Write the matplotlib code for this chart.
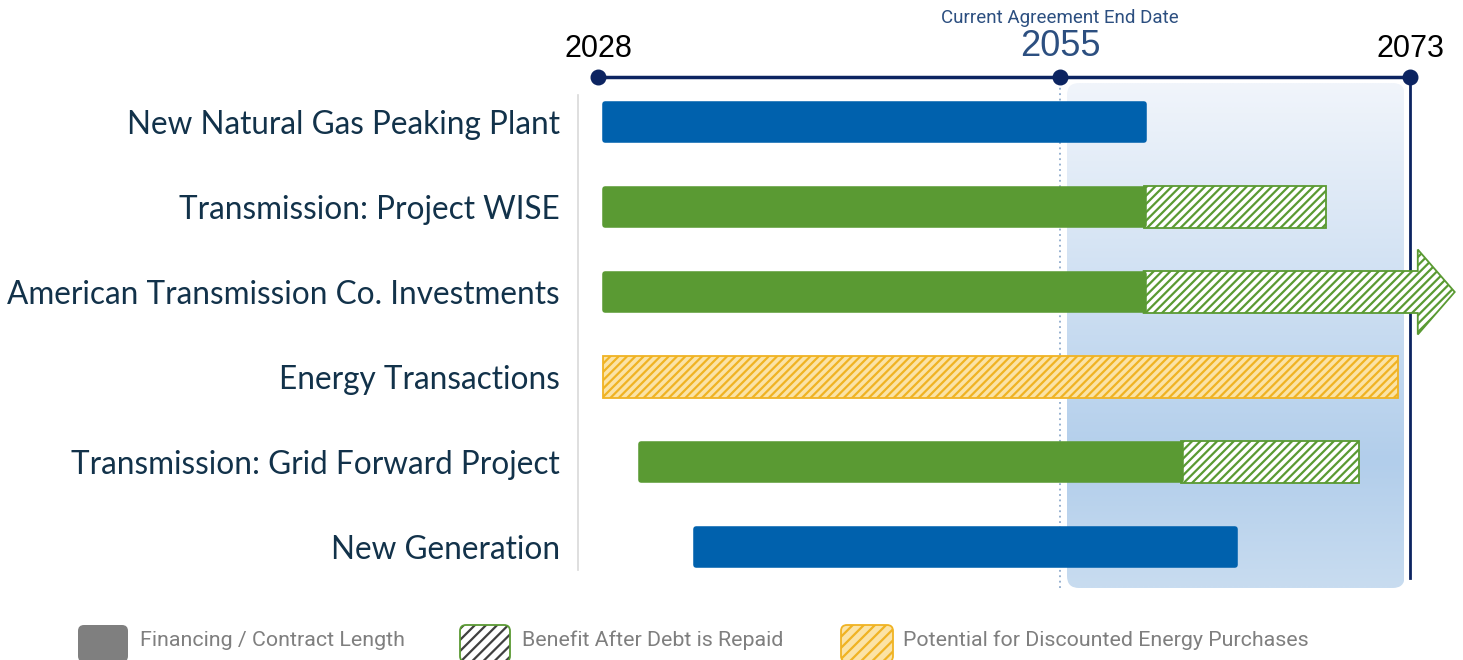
import numpy as np
import matplotlib
matplotlib.use("Agg")
import matplotlib.pyplot as plt
from matplotlib.patches import Polygon, FancyBboxPatch
from matplotlib.transforms import IdentityTransform
from matplotlib.colors import LinearSegmentedColormap

# ---------------- data ----------------
projects = ["New Natural Gas Peaking Plant", "Transmission: Project WISE",
            "American Transmission Co. Investments", "Energy Transactions",
            "Transmission: Grid Forward Project", "New Generation"]
finance_color = ["blue", "green", "green", None, "green", "blue"]
finance_start = [2028.4, 2028.4, 2028.4, np.nan, 2030.5, 2033.7]
finance_end = [2059.3, 2059.3, 2059.3, np.nan, 2061.2, 2064.0]
benefit_end = [np.nan, 2068.7, 2073.4, np.nan, 2070.4, np.nan]
benefit_arrow_tip = [np.nan, np.nan, 2075.3, np.nan, np.nan, np.nan]
energy_start = [np.nan, np.nan, np.nan, 2028.3, np.nan, np.nan]
energy_end = [np.nan, np.nan, np.nan, 2072.4, np.nan, np.nan]

milestone_years = [2028, 2055, 2073]
agreement_end = 2055
agreement_label = "Current Agreement End Date"
legend_labels = ["Financing / Contract Length", "Benefit After Debt is Repaid",
                 "Potential for Discounted Energy Purchases"]

# ---------------- style ----------------
W, H = 1463, 660
BLUE = "#0061ad"
GREEN = "#5a9a33"
YEL = "#f0b323"
YEL_LIGHT = "#fbe3a6"
NAVY = "#0c2461"
LABEL_C = "#12324a"
MID_BLUE = "#2c4f80"
GRAY = "#7f7f7f"
NARROW = ["Liberation Sans Narrow", "Roboto", "DejaVu Sans"]
plt.rcParams["hatch.linewidth"] = 1.6

# piecewise-linear timeline scale (schematic spacing between milestones)
anchor_years = np.array([2028.0, 2055.0, 2073.0])
anchor_px = np.array([598.0, 1060.0, 1410.0])
s1 = (anchor_px[1] - anchor_px[0]) / (anchor_years[1] - anchor_years[0])
s2 = (anchor_px[2] - anchor_px[1]) / (anchor_years[2] - anchor_years[1])


def fwd(x):
    x = np.asarray(x, dtype=float)
    return np.where(x <= anchor_years[1], anchor_px[0] + (x - anchor_years[0]) * s1,
                    anchor_px[1] + (x - anchor_years[1]) * s2)


def inv(p):
    p = np.asarray(p, dtype=float)
    return np.where(p <= anchor_px[1], anchor_years[0] + (p - anchor_px[0]) / s1,
                    anchor_years[1] + (p - anchor_px[1]) / s2)


row0_px, row_step = 122.0, 85.0


def ypx(p):
    return (p - row0_px) / row_step


fig = plt.figure(figsize=(W / 100, H / 100), dpi=100)
ax_left = 578
ax = fig.add_axes([ax_left / W, 0, 1 - ax_left / W, 1])
ax.set_xscale("function", functions=(fwd, inv))
ax.set_xlim(float(inv(ax_left)), float(inv(W)))
ax.set_ylim(ypx(H), ypx(0))
ax.patch.set_alpha(0)

# y labels
ax.set_yticks(range(len(projects)))
ax.set_yticklabels(projects, fontsize=22.7, color=LABEL_C, family=["Lato", "DejaVu Sans"])
ax.tick_params(axis="y", length=0, pad=13)
ax.set_xticks([])
for s in ["top", "right", "bottom"]:
    ax.spines[s].set_visible(False)
ax.spines["left"].set_color("#d9d9d9")
ax.spines["left"].set_linewidth(1.2)
ax.spines["left"].set_bounds(ypx(95), ypx(570))

# shaded post-agreement region with gradient
y_top, y_bot = ypx(83), ypx(588)
x0, x1 = agreement_end + 0.36, milestone_years[-1] - 0.27
cmap = LinearSegmentedColormap.from_list("g", [(0, "#f1f5fb"), (0.75, "#b2ceeb"), (1, "#c8dcf0")])
grad = np.linspace(0, 1, 256).reshape(-1, 1)
im = ax.imshow(grad, cmap=cmap, extent=[x0, x1, y_bot, y_top], aspect="auto",
               zorder=0, interpolation="bilinear", origin="upper")
r_x = 12 / s2
clip = FancyBboxPatch((x0, y_top), x1 - x0, y_bot - y_top,
                      boxstyle=f"round,pad=0,rounding_size={r_x}",
                      mutation_aspect=(12 / row_step) / r_x,
                      transform=ax.transData, facecolor="none", edgecolor="none")
ax.add_patch(clip)
im.set_clip_path(clip)

# timeline
y_tl = ypx(77)
ax.plot([agreement_end, agreement_end], [y_tl, ypx(590)], ls=(0, (1, 2)), color="#8eaacc",
        lw=1.3, zorder=1, clip_on=False)
ax.plot([milestone_years[-1]] * 2, [y_tl, ypx(578)], color=NAVY, lw=2, zorder=1, clip_on=False)
ax.plot([milestone_years[0], milestone_years[-1]], [y_tl, y_tl], color=NAVY, lw=2.5,
        zorder=5, clip_on=False)
ax.scatter(milestone_years, [y_tl] * len(milestone_years), s=110, color=NAVY, zorder=6,
           clip_on=False)
for yr in milestone_years:
    if yr == agreement_end:
        ax.text(yr, ypx(47), str(yr), ha="center", va="center", fontsize=26, color=MID_BLUE,
                family=["Liberation Sans", "DejaVu Sans"], clip_on=False)
    else:
        ax.text(yr, ypx(49), str(yr), ha="center", va="center", fontsize=22, color="black",
                family=["Liberation Sans", "DejaVu Sans"], clip_on=False)
ax.text(agreement_end, ypx(18), agreement_label, ha="center", va="center", fontsize=13.5,
        color=MID_BLUE, family=NARROW, clip_on=False)

# bars
col = {"blue": BLUE, "green": GREEN}
h_out = 42 / row_step
lw_round = 4.0
h_in = h_out - (lw_round / 72 * 100) / row_step
for i in range(len(projects)):
    # benefit (hatched green)
    if not np.isnan(benefit_end[i]):
        if np.isnan(benefit_arrow_tip[i]):
            ax.barh(i, benefit_end[i] - finance_end[i], left=finance_end[i], height=h_out,
                    facecolor="white", edgecolor=GREEN, hatch="////", linewidth=1.3, zorder=2)
        else:
            hb, hh = h_out / 2, 0.5
            a, b, t = finance_end[i], benefit_end[i], benefit_arrow_tip[i]
            poly = Polygon([(a, i - hb), (b, i - hb), (b, i - hh), (t, i), (b, i + hh),
                            (b, i + hb), (a, i + hb)], closed=True, facecolor="white",
                           edgecolor=GREEN, hatch="////", linewidth=1.3, zorder=2,
                           clip_on=False)
            ax.add_patch(poly)
    # energy transactions (hatched yellow)
    if not np.isnan(energy_end[i]):
        ax.barh(i, energy_end[i] - energy_start[i], left=energy_start[i], height=h_out,
                facecolor=YEL_LIGHT, edgecolor=YEL, hatch="////", linewidth=1.3, zorder=2)
    # financing (solid)
    if finance_color[i] is not None:
        c = col[finance_color[i]]
        ax.barh(i, finance_end[i] - finance_start[i], left=finance_start[i], height=h_in,
                color=c, edgecolor=c, linewidth=lw_round, joinstyle="round", zorder=3)

# legend (drawn in pixel space at the bottom)
ident = IdentityTransform()
sw = [(78, 50, GRAY, None, None), (460, 50, "white", "#404040", GREEN),
      (841, 52, YEL_LIGHT, YEL, YEL)]
text_x = [140, 522, 903]
for (sx, swd, fc, hc, ec), lab, tx in zip(sw, legend_labels, text_x):
    sy0, sh = H - 662, 37
    base = FancyBboxPatch((sx, sy0), swd, sh, boxstyle="round,pad=0,rounding_size=6",
                          transform=ident, facecolor=fc,
                          edgecolor=(hc if hc else fc), linewidth=0,
                          hatch=("///" if hc else None))
    fig.add_artist(base)
    if ec:
        edge = FancyBboxPatch((sx, sy0), swd, sh, boxstyle="round,pad=0,rounding_size=6",
                              transform=ident, facecolor="none", edgecolor=ec, linewidth=1.3)
        fig.add_artist(edge)
    fig.text(tx / W, 1 - 640 / H, lab, ha="left", va="center", fontsize=15.4, color=GRAY,
             family=NARROW)

fig.savefig("out.png", dpi=100)
